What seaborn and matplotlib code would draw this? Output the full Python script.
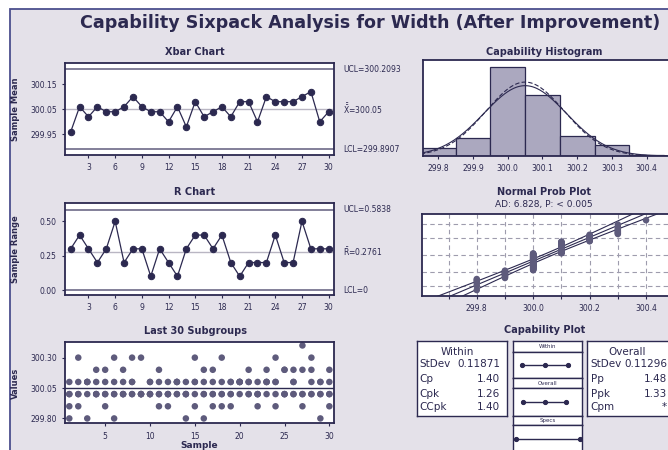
import matplotlib
matplotlib.use("Agg")
import matplotlib.pyplot as plt
import matplotlib.patches as mpatches
import matplotlib.transforms as mtransforms
import numpy as np
import pandas as pd
import seaborn as sns
from statistics import NormalDist

# ---- data ----
subgroup = list(range(1, 31))
xbar_means = [299.96, 300.06, 300.02, 300.06, 300.04, 300.04, 300.06, 300.10, 300.06, 300.04,
              300.04, 300.00, 300.06, 299.98, 300.08, 300.02, 300.04, 300.06, 300.02, 300.08,
              300.08, 300.00, 300.10, 300.08, 300.08, 300.08, 300.10, 300.12, 300.00, 300.04]
sample_ranges = [0.3, 0.4, 0.3, 0.2, 0.3, 0.5, 0.2, 0.3, 0.3, 0.1,
                 0.3, 0.2, 0.1, 0.3, 0.4, 0.4, 0.3, 0.4, 0.2, 0.1,
                 0.2, 0.2, 0.2, 0.4, 0.2, 0.2, 0.5, 0.3, 0.3, 0.3]
# five measurements per subgroup, sorted low to high
obs_1 = [299.8, 299.9, 299.8, 300.0, 299.9, 299.8, 300.0, 300.0, 300.0, 300.0,
         299.9, 299.9, 300.0, 299.8, 299.9, 299.8, 299.9, 299.9, 299.9, 300.0,
         300.0, 299.9, 300.0, 299.9, 300.0, 300.0, 299.9, 300.0, 299.8, 299.9]
obs_2 = [299.9, 300.0, 300.0, 300.0, 300.0, 300.0, 300.0, 300.0, 300.0, 300.0,
         300.0, 300.0, 300.0, 300.0, 300.0, 300.0, 300.0, 300.0, 300.0, 300.1,
         300.0, 300.0, 300.1, 300.0, 300.0, 300.0, 300.0, 300.0, 300.0, 300.0]
obs_3 = [300.0, 300.0, 300.1, 300.0, 300.0, 300.0, 300.0, 300.1, 300.0, 300.0,
         300.0, 300.0, 300.1, 300.0, 300.1, 300.0, 300.0, 300.0, 300.0, 300.1,
         300.1, 300.0, 300.1, 300.1, 300.0, 300.1, 300.0, 300.1, 300.0, 300.0]
obs_4 = [300.0, 300.1, 300.1, 300.1, 300.1, 300.1, 300.1, 300.1, 300.0, 300.1,
         300.1, 300.0, 300.1, 300.0, 300.1, 300.1, 300.1, 300.1, 300.1, 300.1,
         300.1, 300.0, 300.1, 300.1, 300.2, 300.1, 300.2, 300.2, 300.1, 300.1]
obs_5 = [300.1, 300.3, 300.1, 300.2, 300.2, 300.3, 300.2, 300.3, 300.3, 300.1,
         300.2, 300.1, 300.1, 300.1, 300.3, 300.2, 300.2, 300.3, 300.1, 300.1,
         300.2, 300.1, 300.2, 300.3, 300.2, 300.2, 300.4, 300.3, 300.1, 300.2]

xbar_center, xbar_ucl, xbar_lcl = 300.05, 300.2093, 299.8907
r_center, r_ucl, r_lcl = 0.2761, 0.5838, 0.0
lsl, usl = 299.6, 300.6
within_sd, overall_sd = 0.11871, 0.11296
within_labels = ["StDev", "Cp", "Cpk", "CCpk"]
within_values = ["0.11871", "1.40", "1.26", "1.40"]
overall_labels = ["StDev", "Pp", "Ppk", "Cpm"]
overall_values = ["0.11296", "1.48", "1.33", "*"]
prob_grid_pct = [1, 10, 50, 90, 99]

# ---- style ----
sns.set_style("white")
plt.rcParams["font.family"] = ["DejaVu Sans"]
plt.rcParams["mathtext.fontset"] = "dejavusans"

bg = "#e4e1e9"
navy = "#2c2950"
frame_col = "#4c4f8e"
limit_col = "#6d6a88"
center_col = "#b9b6c3"
dot_col = "#5e5b7c"
bar_col = "#aba8bf"
grid_col = "#9e9cad"

W, H = 668, 450
fig = plt.figure(figsize=(W / 100, H / 100), dpi=100, facecolor="white")
fig.patches.append(mpatches.Rectangle((9.5 / W, -0.1), 1.2, 1.1 - 8.5 / H,
                                      transform=fig.transFigure, facecolor=bg,
                                      edgecolor=frame_col, lw=1.3, zorder=-10))


def box(left, top, right, bottom):
    return fig.add_axes([left / W, 1 - bottom / H, (right - left) / W, (bottom - top) / H])


def ftext(x, y, s, **kw):
    kw.setdefault("color", navy)
    kw.setdefault("va", "center")
    fig.text(x / W, 1 - y / H, s, **kw)


def style(ax):
    ax.set_facecolor("white")
    for sp in ax.spines.values():
        sp.set_color(navy)
        sp.set_linewidth(1.3)
    ax.tick_params(labelsize=5.5, colors=navy, length=2.5, width=0.8, direction="out",
                   bottom=True, left=True)
    ax.set_xlabel("")
    ax.set_ylabel("")


ftext(370, 23, "Capability Sixpack Analysis for Width (After Improvement)",
      fontsize=12.6, fontweight="bold", ha="center")

df = pd.DataFrame({"Sample": subgroup, "Mean": xbar_means, "Range": sample_ranges})

# ---- Xbar chart ----
ax = box(65, 62.7, 334, 155)
ax.axhline(xbar_ucl, color=limit_col, lw=1.2)
ax.axhline(xbar_lcl, color=limit_col, lw=1.2)
ax.axhline(xbar_center, color=center_col, lw=1.0)
sns.lineplot(data=df, x="Sample", y="Mean", ax=ax, color=navy, lw=0.9, marker="o",
             markersize=4.6, markeredgecolor=navy)
ax.set_xlim(0.36, 30.6)
ax.set_ylim(299.868, 300.235)
ax.set_xticks(range(3, 31, 3))
ax.set_yticks([299.95, 300.05, 300.15])
ax.set_yticklabels(["299.95", "300.05", "300.15"])
style(ax)
tr = mtransforms.blended_transform_factory(ax.transAxes, ax.transData)
for yv, s in [(xbar_ucl, f"UCL={xbar_ucl:.4f}"), (xbar_center, r"$\bar{\bar{\mathrm{X}}}$" + f"={xbar_center:.2f}"),
              (xbar_lcl, f"LCL={xbar_lcl:.4f}")]:
    ax.text(1.033, yv, s, transform=tr, fontsize=5.5, color=navy, va="center")
ftext(195, 51.7, "Xbar Chart", fontsize=7, fontweight="bold", ha="center")
ftext(15, 108.8, "Sample Mean", fontsize=6, fontweight="bold", ha="center", rotation=90)

# ---- R chart ----
ax = box(65, 203.3, 334, 295)
ax.axhline(r_ucl, color=limit_col, lw=1.2)
ax.axhline(r_lcl, color=limit_col, lw=1.2)
ax.axhline(r_center, color=center_col, lw=1.0)
sns.lineplot(data=df, x="Sample", y="Range", ax=ax, color=navy, lw=0.9, marker="o",
             markersize=4.6, markeredgecolor=navy)
ax.set_xlim(0.36, 30.6)
ax.set_ylim(-0.036, 0.631)
ax.set_xticks(range(3, 31, 3))
ax.set_yticks([0.0, 0.25, 0.5])
ax.set_yticklabels(["0.00", "0.25", "0.50"])
style(ax)
tr = mtransforms.blended_transform_factory(ax.transAxes, ax.transData)
for yv, s in [(r_ucl, f"UCL={r_ucl:.4f}"), (r_center, r"$\bar{\mathrm{R}}$" + f"={r_center:.4f}"),
              (r_lcl, "LCL=0")]:
    ax.text(1.033, yv, s, transform=tr, fontsize=5.5, color=navy, va="center")
ftext(195, 191.7, "R Chart", fontsize=7, fontweight="bold", ha="center")
ftext(15, 249, "Sample Range", fontsize=6, fontweight="bold", ha="center", rotation=90)

# ---- Last 30 subgroups ----
obs = pd.DataFrame({"Sample": subgroup, "o1": obs_1, "o2": obs_2, "o3": obs_3,
                    "o4": obs_4, "o5": obs_5})
long = obs.melt(id_vars="Sample", value_name="Value")
ax = box(65, 342.3, 334, 423.3)
ax.axhline(xbar_center, color=navy, lw=1.0)
sns.scatterplot(data=long, x="Sample", y="Value", ax=ax, color=dot_col, s=22,
                edgecolor="none", marker="o")
ax.set_xlim(0.52, 30.52)
ax.set_ylim(299.76, 300.426)
ax.set_xticks(range(5, 31, 5))
ax.set_yticks([299.8, 300.05, 300.3])
ax.set_yticklabels(["299.80", "300.05", "300.30"])
style(ax)
ftext(195, 331, "Last 30 Subgroups", fontsize=7, fontweight="bold", ha="center")
ftext(15, 383, "Values", fontsize=6, fontweight="bold", ha="center", rotation=90)
ftext(199, 445, "Sample", fontsize=6.5, fontweight="bold", ha="center")

# ---- Capability histogram ----
values = long["Value"].to_numpy()
n = len(values)
ax = box(422.7, 60, 672, 156)
sns.histplot(x=values, binwidth=0.1, binrange=(299.75, 300.45), ax=ax, color=bar_col,
             edgecolor=navy, linewidth=0.9, alpha=1)
xs = np.linspace(299.5, 300.7, 400)
nd_w = NormalDist(xbar_center, within_sd)
nd_o = NormalDist(xbar_center, overall_sd)
sns.lineplot(x=xs, y=[n * 0.1 * nd_w.pdf(v) for v in xs], ax=ax, color=navy, lw=0.8)
sns.lineplot(x=xs, y=[n * 0.1 * nd_o.pdf(v) for v in xs], ax=ax, color=navy, lw=0.8,
             linestyle=(0, (4, 2)))
ax.set_xlim(299.755, 300.473)
ax.set_ylim(0, pd.Series(values).round(1).value_counts().max() * 1.075)
ax.set_xticks([299.8, 299.9, 300.0, 300.1, 300.2, 300.3, 300.4])
ax.set_xticklabels(["299.8", "299.9", "300.0", "300.1", "300.2", "300.3", "300.4"])
ax.set_yticks([])
style(ax)
ftext(544, 51.7, "Capability Histogram", fontsize=7, fontweight="bold", ha="center")

# ---- Normal probability plot ----
sorted_vals = np.sort(values)
z_pos = [NormalDist().inv_cdf((i - 0.3) / (n + 0.4)) for i in range(1, n + 1)]
ax = box(422.3, 214.3, 672, 296)
zl = np.linspace(-3.3, 3.3, 200)
fit = xbar_center + overall_sd * zl
se = overall_sd * np.sqrt(1 / n + zl ** 2 / (2 * (n - 1)))
for xv in [fit, fit - 1.96 * se, fit + 1.96 * se]:
    sns.lineplot(x=xv, y=zl, ax=ax, color=navy, lw=0.8, sort=False, estimator=None)
sns.scatterplot(x=sorted_vals, y=z_pos, ax=ax, color=dot_col, s=22, edgecolor="none", zorder=3)
ax.set_xlim(299.607, 300.492)
ax.set_ylim(-3.04, 3.04)
ax.set_xticks([299.8, 300.0, 300.2, 300.4])
ax.set_xticklabels(["299.8", "300.0", "300.2", "300.4"])
ax.set_xticks([299.7, 299.9, 300.1, 300.3], minor=True)
ax.set_yticks([NormalDist().inv_cdf(p / 100) for p in prob_grid_pct])
style(ax)
ax.tick_params(axis="y", length=0, labelleft=False)
ax.tick_params(axis="x", which="minor", length=2.5, width=0.8, colors=navy, bottom=True)
ax.grid(True, which="both", color=grid_col, lw=0.8, linestyle=(0, (4, 3)))
ftext(544, 191.7, "Normal Prob Plot", fontsize=7, fontweight="bold", ha="center")
ftext(544, 205, "AD: 6.828, P: < 0.005", fontsize=6.5, ha="center")

# ---- Capability plot ----
ftext(545, 330, "Capability Plot", fontsize=7, fontweight="bold", ha="center")
for left, right, head, labs, vals, hx, lx, vx in [
        (417.3, 507.3, "Within", within_labels, within_values, 457, 419.3, 500),
        (586.7, 676.7, "Overall", overall_labels, overall_values, 627.5, 590.7, 667)]:
    bx = box(left, 341, right, 415.7)
    bx.set_xticks([])
    bx.set_yticks([])
    style(bx)
    bx.spines[:].set_linewidth(1.0)
    ftext(hx, 351.7, head, fontsize=7.5, ha="center")
    for yy, lab, val in zip([364.3, 379.3, 394, 407.3], labs, vals):
        ftext(lx, yy, lab, fontsize=7.5, ha="left")
        ftext(vx, yy, val, fontsize=7.5, ha="right")

rows = [("Within", 341.3, 351.7, 378.3, [xbar_center - 3 * within_sd, xbar_center, xbar_center + 3 * within_sd]),
        ("Overall", 378.3, 388.3, 416, [xbar_center - 3 * overall_sd, xbar_center, xbar_center + 3 * overall_sd]),
        ("Specs", 416, 425, 453.6, [lsl, usl])]
for head, top, mid, bottom, pts in rows:
    hx = box(513.3, top, 581.7, mid)
    hx.set_xticks([])
    hx.set_yticks([])
    style(hx)
    hx.spines[:].set_linewidth(1.0)
    hx.text(0.5, 0.5, head, fontsize=4, color=navy, ha="center", va="center", transform=hx.transAxes)
    lx_ = box(513.3, mid, 581.7, bottom)
    sns.lineplot(x=pts, y=[0.5] * len(pts), ax=lx_, color=navy, lw=1.0, marker="o",
                 markersize=3, markeredgecolor=navy)
    lx_.set_xlim(299.565, 300.626)
    lx_.set_ylim(0, 1)
    lx_.set_xticks([])
    lx_.set_yticks([])
    style(lx_)
    lx_.spines[:].set_linewidth(1.0)

fig.savefig("out.png", dpi=100, facecolor="white")
